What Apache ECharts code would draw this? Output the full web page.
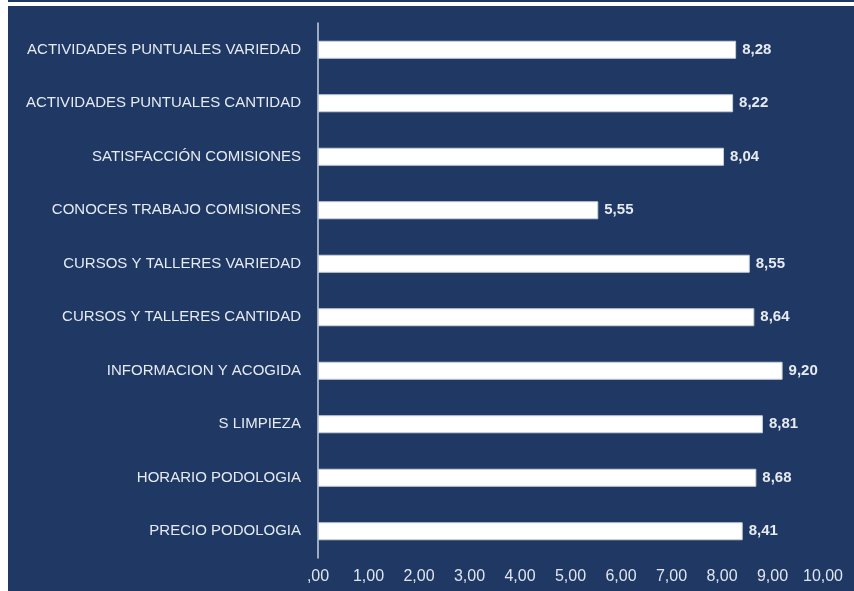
<!DOCTYPE html>
<html>
<head>
<meta charset="utf-8">
<script src="https://cdn.jsdelivr.net/npm/echarts@6/dist/echarts.min.js"></script>
<style>
  html, body { margin: 0; padding: 0; background: #ffffff; }
  #frame { position: absolute; left: 8px; top: 0; width: 846px; height: 591px; background: #1f3864; }
  #topband { position: absolute; left: 8px; top: 2px; width: 846px; height: 4px; background: #ffffff; }
  #chart { position: absolute; left: 0; top: 0; width: 854px; height: 591px; }
</style>
</head>
<body>
<div id="frame"></div>
<div id="topband"></div>
<div id="chart"></div>
<script>
// categories top -> bottom
var categories = [
  "ACTIVIDADES PUNTUALES VARIEDAD",
  "ACTIVIDADES PUNTUALES CANTIDAD",
  "SATISFACCIÓN COMISIONES",
  "CONOCES TRABAJO COMISIONES",
  "CURSOS Y TALLERES VARIEDAD",
  "CURSOS Y TALLERES CANTIDAD",
  "INFORMACION Y ACOGIDA",
  "S LIMPIEZA",
  "HORARIO PODOLOGIA",
  "PRECIO PODOLOGIA"
];
var scores = [8.28, 8.22, 8.04, 5.55, 8.55, 8.64, 9.20, 8.81, 8.68, 8.41];
var axisMin = 0;
var axisMax = 10;
var axisStep = 1;

function fmt(v) {
  var s = Number(v).toFixed(2).replace(".", ",");
  return s.indexOf("0,") === 0 ? s.slice(1) : s;
}

var chart = echarts.init(document.getElementById("chart"), null, { renderer: "canvas" });
chart.setOption({
  backgroundColor: "transparent",
  animation: false,
  textStyle: { fontFamily: "Liberation Sans, Arial, sans-serif" },
  grid: { left: 318, right: 31, top: 23, bottom: 33, containLabel: false },
  xAxis: {
    type: "value",
    min: axisMin,
    max: axisMax,
    interval: axisStep,
    axisLine: { show: false },
    axisTick: { show: false },
    splitLine: { show: false },
    axisLabel: {
      color: "#dfe5ee",
      fontSize: 16,
      margin: 11,
      formatter: function (v) { return fmt(v); }
    }
  },
  yAxis: {
    type: "category",
    inverse: true,
    data: categories,
    axisLine: { show: true, lineStyle: { color: "#c9d1de", width: 1.5 } },
    axisTick: { show: false },
    axisLabel: { color: "#e6ebf2", fontSize: 15, margin: 17 }
  },
  series: [{
    type: "bar",
    data: scores,
    barWidth: 18,
    itemStyle: { color: "#ffffff", borderColor: "#c7cfdc", borderWidth: 1 },
    label: {
      show: true,
      position: "right",
      distance: 6,
      color: "#e6ebf2",
      fontSize: 15,
      fontWeight: "bold",
      formatter: function (p) { return fmt(p.value); }
    }
  }]
});
</script>
</body>
</html>
